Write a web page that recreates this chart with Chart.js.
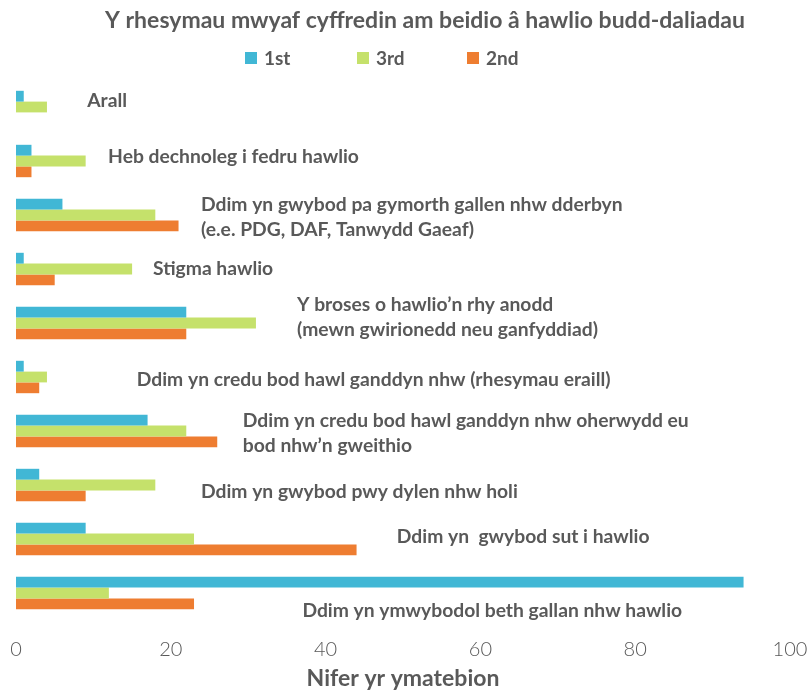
<!DOCTYPE html>
<html>
<head>
<meta charset="utf-8">
<script src="https://cdn.jsdelivr.net/npm/chart.js@4/dist/chart.umd.min.js"></script>
<style>
  html, body { margin: 0; padding: 0; background: #ffffff; }
  #wrap { position: relative; width: 808px; height: 693px; }
</style>
</head>
<body>
<div id="wrap"><canvas id="c" width="808" height="693"></canvas></div>
<script>
const chartTitle = "Y rhesymau mwyaf cyffredin am beidio \u00e2 hawlio budd-daliadau";
const axisTitle = "Nifer yr ymatebion";
const categories = [
  ["Arall"],
  ["Heb dechnoleg i fedru hawlio"],
  ["Ddim yn gwybod pa gymorth gallen nhw dderbyn", "(e.e. PDG, DAF, Tanwydd Gaeaf)"],
  ["Stigma hawlio"],
  ["Y broses o hawlio\u2019n rhy anodd", "(mewn gwirionedd neu ganfyddiad)"],
  ["Ddim yn credu bod hawl ganddyn nhw (rhesymau eraill)"],
  ["Ddim yn credu bod hawl ganddyn nhw oherwydd eu", "bod nhw\u2019n gweithio"],
  ["Ddim yn gwybod pwy dylen nhw holi"],
  ["Ddim yn  gwybod sut i hawlio"],
  ["Ddim yn ymwybodol beth gallan nhw hawlio"]
];
const seriesNames = ["1st", "3rd", "2nd"];
const first  = [1, 2, 6, 1, 22, 1, 17, 3, 9, 94];
const third  = [4, 9, 18, 15, 31, 4, 22, 18, 23, 12];
const second = [0, 2, 21, 5, 22, 3, 26, 9, 44, 23];
const xTicks = [0, 20, 40, 60, 80, 100];

// label placement (value-axis anchor, vertical pixel offset from category centre)
const labelAnchorValue = [9.2, 11.9, 23.9, 17.7, 36.3, 15.6, 29.3, 23.9, 49.2, 37.0];
const labelOffsetY     = [-6, -4, 2, 0, -6, 3, 2, 7, -2, 18];

const colors = ["#41B7D5", "#C5E16B", "#EE7D31"];
const textColor = "#595959";
const FONT = "Lato, 'Open Sans', sans-serif";

const labelPlugin = {
  id: 'catLabels',
  afterDatasetsDraw(chart) {
    const ctx = chart.ctx;
    const xs = chart.scales.x, ys = chart.scales.y;
    ctx.save();
    ctx.font = "bold 19.3px " + FONT;
    ctx.fillStyle = textColor;
    ctx.textBaseline = "middle";
    ctx.textAlign = "left";
    const lh = 25;
    categories.forEach((lines, i) => {
      const x = xs.getPixelForValue(labelAnchorValue[i]);
      const yc = ys.getPixelForValue(i) + labelOffsetY[i];
      const y0 = yc - (lines.length - 1) * lh / 2;
      lines.forEach((t, k) => ctx.fillText(t, x, y0 + k * lh));
    });
    ctx.restore();
  }
};

// title and legend drawn manually to match reference placement
const headerPlugin = {
  id: 'header',
  afterDraw(chart) {
    const ctx = chart.ctx;
    ctx.save();
    ctx.fillStyle = textColor;
    ctx.font = "bold 23px " + FONT;
    ctx.textAlign = "center";
    ctx.textBaseline = "middle";
    ctx.fillText(chartTitle, 425, 21);

    ctx.font = "bold 19px " + FONT;
    ctx.textAlign = "left";
    const itemX = [245, 357, 467];
    const yc = 58;
    chart.data.datasets.forEach((ds, i) => {
      ctx.fillStyle = ds.backgroundColor;
      ctx.fillRect(itemX[i], yc - 6, 12, 12);
      ctx.fillStyle = textColor;
      ctx.fillText(ds.label, itemX[i] + 19, yc + 1);
    });
    ctx.restore();
  }
};

new Chart(document.getElementById('c'), {
  type: 'bar',
  data: {
    labels: categories.map(l => l.join(' ')),
    datasets: [
      { label: seriesNames[0], data: first,  backgroundColor: colors[0] },
      { label: seriesNames[1], data: third,  backgroundColor: colors[1] },
      { label: seriesNames[2], data: second, backgroundColor: colors[2] }
    ]
  },
  options: {
    indexAxis: 'y',
    responsive: false,
    animation: false,
    categoryPercentage: 0.6,
    barPercentage: 1.0,
    layout: { padding: { left: 16, right: 18, top: 80, bottom: 0 } },
    plugins: {
      title: { display: false },
      legend: { display: false },
      tooltip: { enabled: false }
    },
    scales: {
      x: {
        min: 0, max: 100,
        afterBuildTicks(scale) { scale.ticks = xTicks.map(v => ({ value: v })); },
        afterFit(scale) { scale.paddingLeft = 0; scale.paddingRight = 0; scale.height = 73; },
        grid: { display: false, drawTicks: false },
        border: { display: false },
        ticks: { color: textColor, font: { family: FONT, size: 20, weight: '300' }, padding: 18 },
        title: {
          display: true,
          text: axisTitle,
          color: textColor,
          font: { family: FONT, size: 23, weight: 'bold' },
          padding: { top: 5, bottom: 1 }
        }
      },
      y: {
        display: false,
        offset: true,
        grid: { display: false }
      }
    }
  },
  plugins: [labelPlugin, headerPlugin]
});
</script>
</body>
</html>
